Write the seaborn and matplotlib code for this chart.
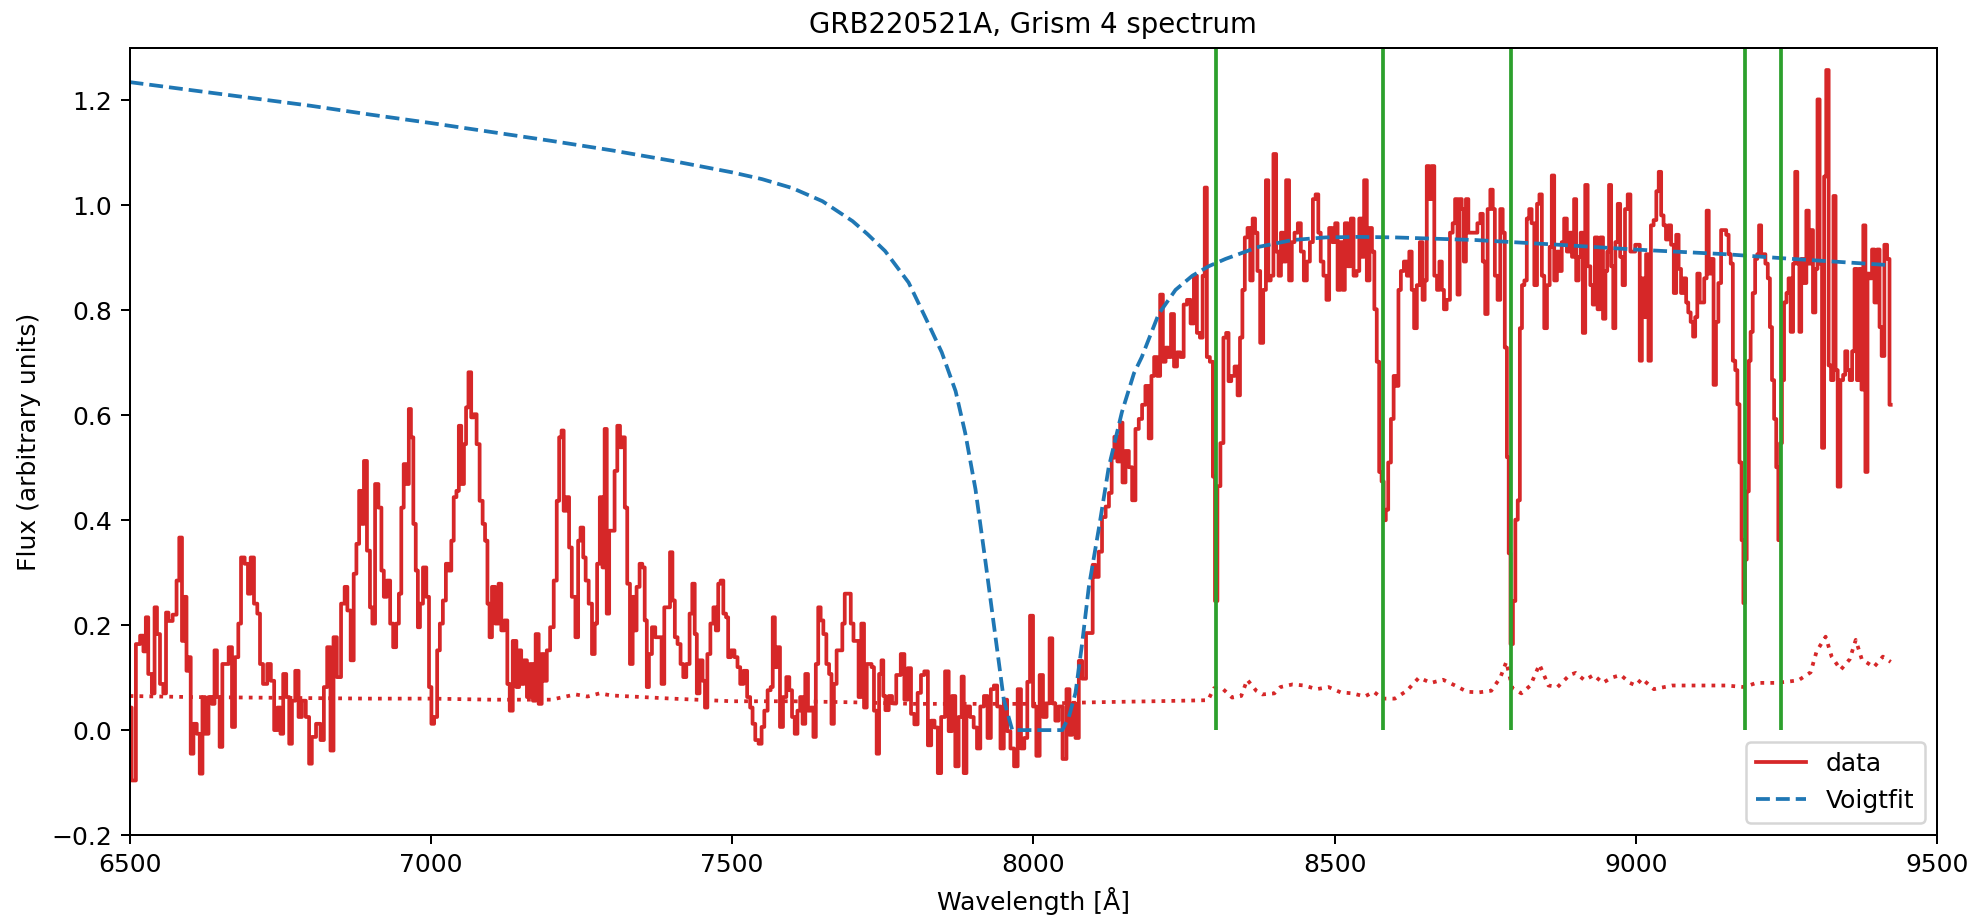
import matplotlib
matplotlib.use("Agg")
import matplotlib.pyplot as plt
import seaborn as sns
import numpy as np
import pandas as pd

# ---------------- data ----------------
wave = [
 6501, 6506, 6515, 6520, 6526, 6528, 6534, 6540, 6543, 6548, 6553, 6559, 6562, 6567, 6576, 6580,
 6585, 6589, 6592, 6597, 6600, 6603, 6609, 6614, 6619, 6623, 6628, 6634, 6639, 6643, 6647, 6652,
 6656, 6661, 6668, 6672, 6678, 6683, 6687, 6695, 6698, 6704, 6709, 6715, 6718, 6725, 6732, 6737,
 6743, 6748, 6753, 6757, 6763, 6767, 6772, 6778, 6783, 6789, 6796, 6800, 6805, 6814, 6820, 6825,
 6831, 6836, 6841, 6847, 6855, 6859, 6864, 6870, 6874, 6879, 6883, 6887, 6891, 6897, 6901, 6905,
 6910, 6916, 6920, 6924, 6930, 6935, 6940, 6945, 6949, 6953, 6957, 6962, 6965, 6969, 6973, 6977,
 6980, 6984, 6990, 6995, 6999, 7003, 7008, 7013, 7017, 7023, 7027, 7032, 7036, 7040, 7045, 7048,
 7053, 7057, 7060, 7065, 7069, 7074, 7078, 7084, 7088, 7092, 7096, 7099, 7104, 7110, 7115, 7119,
 7125, 7129, 7133, 7139, 7145, 7148, 7152, 7157, 7162, 7167, 7172, 7176, 7182, 7186, 7190, 7195,
 7201, 7207, 7211, 7215, 7219, 7222, 7228, 7231, 7237, 7243, 7246, 7251, 7255, 7259, 7265, 7270,
 7274, 7278, 7283, 7287, 7290, 7294, 7298, 7303, 7307, 7312, 7316, 7320, 7324, 7328, 7333, 7337,
 7339, 7344, 7349, 7353, 7357, 7360, 7364, 7370, 7375, 7381, 7385, 7390, 7395, 7399, 7403, 7407,
 7412, 7417, 7421, 7427, 7432, 7436, 7440, 7443, 7449, 7453, 7457, 7461, 7467, 7471, 7475, 7479,
 7483, 7488, 7492, 7495, 7501, 7507, 7511, 7516, 7522, 7528, 7532, 7536, 7541, 7547, 7551, 7556,
 7562, 7566, 7569, 7573, 7577, 7582, 7587, 7593, 7597, 7602, 7606, 7611, 7615, 7619, 7624, 7628,
 7633, 7637, 7641, 7645, 7649, 7654, 7659, 7663, 7667, 7671, 7676, 7681, 7685, 7689, 7695, 7699,
 7704, 7708, 7712, 7717, 7721, 7726, 7730, 7733, 7738, 7742, 7746, 7750,
 7752, 7757, 7763, 7768, 7777, 7783, 7789, 7794, 7800, 7805, 7811, 7816, 7822, 7828, 7833, 7839,
 7844, 7850, 7857, 7862, 7868, 7873, 7879, 7883, 7886, 7892, 7898, 7904, 7909, 7915, 7921, 7927,
 7932, 7937, 7943, 7948, 7954, 7959, 7965, 7971, 7977, 7982, 7988, 7992, 7997, 8002, 8008, 8013,
 8019, 8025, 8029, 8034, 8039, 8045, 8052, 8058, 8062, 8067, 8073, 8078, 8084, 8091, 8097, 8100,
 8106, 8111, 8117, 8123, 8128, 8132, 8137, 8142, 8146, 8150, 8156,
 8161, 8167, 8172, 8178, 8183, 8189, 8194, 8198, 8203, 8208, 8213, 8217, 8222, 8226, 8231, 8236,
 8241, 8247, 8252, 8258, 8264, 8269, 8274, 8279, 8283, 8286, 8290, 8296, 8300, 8303, 8308, 8313,
 8318, 8322, 8326, 8331, 8337, 8341, 8345, 8349, 8353, 8358, 8362, 8366, 8370, 8374, 8379, 8384,
 8388, 8392, 8396, 8401, 8405, 8409, 8413, 8417, 8422, 8427, 8431, 8436, 8442, 8446, 8452, 8456,
 8462, 8466, 8471, 8475, 8479, 8484, 8489, 8493, 8499, 8503, 8507, 8512, 8515, 8519, 8525, 8529,
 8534, 8539, 8543, 8547, 8551, 8556, 8560, 8564, 8568, 8572, 8576, 8580,
 8583, 8587, 8591, 8596, 8600, 8604, 8608, 8612, 8618, 8622, 8626, 8630, 8634, 8639, 8644, 8648,
 8651, 8655, 8659, 8663, 8668, 8672, 8676, 8680, 8683, 8689, 8694, 8698, 8702, 8706, 8709, 8713,
 8716, 8720, 8724, 8728, 8734, 8740, 8744, 8748, 8752, 8756, 8761, 8764, 8768, 8773, 8777, 8781,
 8784, 8788, 8790, 8794, 8798, 8802, 8806, 8809, 8813, 8817, 8821, 8825, 8829, 8834, 8838, 8842,
 8846, 8850, 8855, 8859, 8862, 8867, 8871, 8875, 8879, 8883, 8888, 8892, 8896, 8899, 8903, 8907,
 8910, 8914, 8918, 8922, 8927, 8930, 8934, 8939, 8943, 8948, 8951, 8954, 8957, 8961, 8964, 8968,
 8972, 8976, 8980, 8984, 8989, 8993, 8997,
 9001, 9005, 9008, 9012, 9015, 9019, 9023, 9027, 9032, 9036, 9040, 9044, 9048, 9052, 9056, 9061,
 9065, 9069, 9073, 9077, 9082, 9085, 9089, 9093, 9097, 9100, 9104, 9108, 9111, 9116, 9119, 9123,
 9127, 9131, 9135, 9139, 9144, 9148, 9152, 9156, 9159, 9163, 9167, 9170, 9174, 9177, 9180, 9182,
 9186, 9189, 9192, 9196, 9200, 9203, 9206, 9210, 9213, 9217, 9221, 9224, 9228, 9231, 9235, 9238,
 9241, 9244, 9248, 9252, 9255, 9259, 9263, 9266, 9270, 9273, 9276, 9281, 9285, 9289, 9292, 9296,
 9300, 9303, 9307, 9311, 9314, 9318, 9322, 9326, 9330, 9333, 9337, 9342, 9346, 9349, 9353, 9357,
 9361, 9365, 9369, 9373, 9376, 9379, 9383, 9386, 9390, 9394, 9398, 9403, 9406, 9410, 9415, 9419,
 9423]

flux = [
 0.043, -0.096, 0.164, 0.18, 0.15, 0.215, 0.107, 0.07, 0.234, 0.183, 0.088, 0.07, 0.224, 0.208, 0.22, 0.285,
 0.367, 0.17, 0.254, 0.113, 0.139, -0.045, 0.012, -0.007, -0.083, 0.063, -0.007, 0.063, 0.05, 0.152, 0.063, -0.032,
 0.126, 0.126, 0.158, 0.006, 0.139, 0.203, 0.329, 0.317, 0.26, 0.329, 0.241, 0.222, 0.126, 0.088, 0.126, 0.094,
 0.0, 0.043, -0.007, 0.107, 0.063, -0.026, 0.056, 0.113, 0.025, 0.056, 0.025, -0.064, -0.013, 0.012, -0.019, 0.082,
 0.158, -0.039, 0.177, 0.101, 0.241, 0.273, 0.228, 0.133, 0.298, 0.355, 0.456, 0.393, 0.513, 0.342, 0.234, 0.203,
 0.469, 0.424, 0.304, 0.254, 0.285, 0.203, 0.158, 0.203, 0.26, 0.424, 0.507, 0.469, 0.612, 0.558, 0.393, 0.304,
 0.196, 0.241, 0.31, 0.254, 0.082, 0.012, 0.025, 0.152, 0.203, 0.247, 0.317, 0.304, 0.361, 0.444, 0.456, 0.58,
 0.469, 0.545, 0.615, 0.682, 0.596, 0.602, 0.545, 0.437, 0.393, 0.361, 0.241, 0.177, 0.273, 0.203, 0.279, 0.19,
 0.209, 0.088, 0.037, 0.17, 0.082, 0.152, 0.088, 0.133, 0.063, 0.126, 0.056, 0.183, 0.05, 0.145, 0.094, 0.152,
 0.196, 0.285, 0.437, 0.558, 0.571, 0.418, 0.444, 0.348, 0.254, 0.177, 0.361, 0.386, 0.329, 0.285, 0.241, 0.145,
 0.203, 0.317, 0.444, 0.31, 0.574, 0.222, 0.38, 0.38, 0.494, 0.58, 0.539, 0.558, 0.424, 0.279, 0.126, 0.254,
 0.19, 0.273, 0.317, 0.31, 0.209, 0.082, 0.145, 0.196, 0.177, 0.177, 0.088, 0.234, 0.234, 0.339, 0.247, 0.177,
 0.164, 0.126, 0.101, 0.126, 0.222, 0.279, 0.183, 0.07, 0.133, 0.094, 0.043, 0.145, 0.203, 0.234, 0.19, 0.279,
 0.285, 0.222, 0.215, 0.139, 0.152, 0.139, 0.12, 0.088, 0.113, 0.063, 0.043, 0.012, -0.019, -0.026, 0.006, 0.037,
 0.076, 0.082, 0.215, 0.12, 0.158, 0.006, 0.063, 0.101, 0.076, 0.025, -0.007, 0.037, 0.063, 0.012, 0.107, 0.037,
 0.043, -0.013, 0.126, 0.234, 0.209, 0.183, 0.126, 0.107, 0.012, 0.088, 0.152, 0.152, 0.203, 0.26, 0.26, 0.203,
 0.17, 0.17, 0.063, 0.203, 0.043, 0.126, 0.126, 0.12, 0.037, -0.045, 0.107, 0.133,
 0.065, 0.038, 0.065, 0.051, 0.105, 0.145, 0.058, 0.118, 0.031, 0.011, 0.071, 0.105, 0.112, -0.029, 0.018, 0.005,
 -0.082, 0.025, 0.112, -0.002, 0.065, -0.069, 0.025, 0.102, -0.082, 0.045, 0.025, 0.005, -0.035, 0.045, 0.065, -0.015,
 0.078, 0.085, 0.045, -0.035, 0.058, -0.002, -0.035, -0.069, 0.078, -0.035, -0.015, 0.092, 0.218, 0.045, -0.049, 0.105,
 0.025, 0.051, 0.175, 0.051, 0.018, 0.045, -0.055, 0.078, -0.009, 0.051, -0.015, 0.132, 0.098, 0.185, 0.185, 0.315,
 0.292, 0.34, 0.406, 0.426, 0.452, 0.519, 0.559, 0.512, 0.586, 0.472, 0.532,
 0.501, 0.438, 0.574, 0.593, 0.62, 0.656, 0.556, 0.675, 0.711, 0.675, 0.83, 0.702, 0.729, 0.711, 0.793, 0.693,
 0.72, 0.711, 0.811, 0.82, 0.775, 0.866, 0.757, 0.748, 0.866, 1.034, 0.711, 0.702, 0.483, 0.246, 0.465, 0.547,
 0.748, 0.757, 0.665, 0.675, 0.693, 0.638, 0.748, 0.839, 0.939, 0.957, 0.857, 0.975, 0.948, 0.875, 0.738, 0.839,
 1.048, 0.857, 0.866, 1.098, 0.912, 0.866, 0.948, 0.893, 1.048, 0.857, 0.93, 0.948, 0.966, 0.912, 0.857, 0.893,
 0.93, 1.012, 1.021, 0.948, 0.893, 0.866, 0.82, 0.957, 0.93, 0.966, 0.839, 0.93, 0.839, 0.966, 0.884, 0.975,
 0.866, 0.875, 0.975, 0.902, 1.048, 0.857, 0.957, 0.912, 0.802, 0.702, 0.492, 0.474,
 0.40, 0.42, 0.51, 0.593, 0.675, 0.656, 0.839, 0.875, 0.893, 0.866, 0.912, 0.839, 0.766, 0.848, 0.93, 0.82,
 0.857, 1.075, 1.012, 1.075, 0.866, 0.839, 0.893, 0.839, 0.802, 0.82, 0.948, 0.966, 1.012, 0.83, 1.012, 0.993,
 0.893, 1.012, 0.948, 0.948, 0.948, 0.966, 0.984, 0.893, 0.793, 0.993, 1.03, 0.993, 0.866, 0.82, 0.993, 0.948,
 0.729, 0.52, 0.337, 0.164, 0.246, 0.401, 0.438, 0.766, 0.848, 0.857, 0.975, 0.993, 0.966, 0.848, 1.003, 1.021,
 0.866, 0.766, 0.848, 0.921, 1.057, 0.857, 0.912, 0.875, 0.93, 0.975, 0.912, 0.948, 0.902, 1.012, 0.857, 0.902,
 0.948, 0.757, 1.039, 0.884, 0.848, 0.811, 0.939, 0.802, 0.939, 0.784, 0.875, 0.912, 1.039, 0.884, 0.766, 0.93,
 1.003, 0.902, 0.848, 0.993, 1.021, 0.912, 0.912,
 0.925, 0.925, 0.704, 0.861, 0.787, 0.907, 0.704, 0.962, 0.972, 1.027, 1.064, 0.981, 0.962, 0.935, 0.962, 0.925,
 0.833, 0.944, 0.879, 0.833, 0.861, 0.815, 0.796, 0.778, 0.75, 0.787, 0.87, 0.815, 0.815, 0.861, 0.99, 0.87,
 0.898, 0.658, 0.778, 0.852, 0.953, 0.953, 0.944, 0.907, 0.889, 0.704, 0.686, 0.621, 0.51, 0.362, 0.242, 0.325,
 0.455, 0.704, 0.759, 0.833, 0.898, 0.907, 0.962, 0.907, 0.907, 0.889, 0.861, 0.768, 0.667, 0.593, 0.501, 0.362,
 0.547, 0.667, 0.815, 0.833, 0.861, 0.759, 0.889, 1.064, 0.889, 0.759, 0.898, 0.852, 0.99, 0.889, 0.953, 0.796,
 0.879, 1.202, 0.889, 0.538, 1.055, 1.258, 0.695, 0.667, 1.018, 0.686, 0.464, 0.667, 0.677, 0.722, 0.686, 0.667,
 0.722, 0.879, 0.667, 0.879, 0.649, 0.962, 0.492, 0.87, 0.861, 0.916, 0.815, 0.916, 0.768, 0.713, 0.925, 0.898,
 0.62]

err_wave = [6500, 6600, 6700, 6800, 6900, 7000, 7100, 7200, 7240, 7260, 7280, 7300, 7400, 7500, 7600,
            7700, 7800, 7900, 8000, 8100, 8200, 8290, 8300, 8315, 8330, 8345, 8355, 8370, 8380, 8400,
            8410, 8430, 8450, 8470, 8490, 8510, 8530, 8550, 8565, 8580, 8600, 8620, 8640, 8660, 8680,
            8700, 8720, 8740, 8760, 8775, 8785, 8795, 8810, 8825, 8840, 8855, 8870, 8890, 8900, 8915,
            8930, 8945, 8960, 8975, 8990, 9000, 9010, 9030, 9060, 9100, 9150, 9180, 9200, 9230, 9250,
            9270, 9290, 9300, 9315, 9325, 9340, 9355, 9365, 9375, 9395, 9410, 9423]
err_flux = [0.065, 0.063, 0.062, 0.061, 0.060, 0.060, 0.058, 0.058, 0.068, 0.064, 0.070, 0.066, 0.060, 0.055, 0.055,
            0.053, 0.050, 0.050, 0.050, 0.053, 0.055, 0.057, 0.080, 0.078, 0.062, 0.065, 0.096, 0.075, 0.068, 0.070,
            0.082, 0.087, 0.085, 0.078, 0.082, 0.072, 0.070, 0.064, 0.073, 0.060, 0.060, 0.075, 0.100, 0.090, 0.096,
            0.085, 0.073, 0.072, 0.075, 0.100, 0.130, 0.080, 0.070, 0.085, 0.125, 0.085, 0.082, 0.105, 0.109, 0.095,
            0.105, 0.090, 0.100, 0.105, 0.090, 0.085, 0.098, 0.078, 0.085, 0.085, 0.085, 0.082, 0.090, 0.090, 0.092,
            0.095, 0.110, 0.150, 0.178, 0.140, 0.115, 0.135, 0.172, 0.135, 0.120, 0.140, 0.130]

voigt_wave = [6500, 6600, 6700, 6800, 6900, 7000, 7100, 7200, 7300, 7400, 7500, 7550, 7600, 7650, 7700,
              7725, 7754, 7793, 7821, 7848, 7871, 7887, 7904, 7920, 7937, 7951, 7965, 8048, 8059, 8070,
              8081, 8092, 8109, 8125, 8147, 8167, 8180, 8208, 8236, 8264, 8291, 8319, 8374, 8430, 8485,
              8540, 8600, 8734, 8872, 8997, 9149, 9260, 9423]
voigt_flux = [1.235, 1.22, 1.205, 1.19, 1.173, 1.157, 1.14, 1.123, 1.105, 1.085, 1.063, 1.05, 1.033, 1.008, 0.97,
              0.945, 0.913, 0.853, 0.786, 0.72, 0.646, 0.566, 0.459, 0.326, 0.179, 0.058, 0.0, 0.0, 0.025, 0.071,
              0.165, 0.272, 0.386, 0.5, 0.606, 0.68, 0.711, 0.793, 0.839, 0.866, 0.884, 0.898, 0.921, 0.934, 0.939,
              0.94, 0.939, 0.934, 0.925, 0.916, 0.907, 0.898, 0.886]

line_wave = [8304, 8580, 8792, 9181, 9241]

xticks = [6500, 7000, 7500, 8000, 8500, 9000, 9500]
yticks = [-0.2, 0.0, 0.2, 0.4, 0.6, 0.8, 1.0, 1.2]

# ---------------- plot ----------------
DPI = 180
plt.rcParams['font.family'] = ['DejaVu Sans']
fig, ax = plt.subplots(figsize=(1972 / DPI, 923 / DPI), dpi=DPI)
fig.subplots_adjust(left=0.0657, right=0.9823, top=0.948, bottom=0.0953)

df = pd.DataFrame({"wave": wave, "flux": flux})
de = pd.DataFrame({"wave": err_wave, "err": err_flux})
dv = pd.DataFrame({"wave": voigt_wave, "fit": voigt_flux})

red = "#d62728"
sns.lineplot(data=df, x="wave", y="flux", ax=ax, color=red, linewidth=1.5,
             drawstyle="steps-mid", estimator=None, sort=False, label="data")
sns.lineplot(data=de, x="wave", y="err", ax=ax, color=red, linewidth=1.5,
             linestyle=":", estimator=None, sort=False)
sns.lineplot(data=dv, x="wave", y="fit", ax=ax, color="#1f77b4", linewidth=1.5,
             linestyle="--", estimator=None, sort=False, label="Voigtfit")
ax.vlines(line_wave, 0, 1.35, colors="#2ca02c", linewidth=1.5)

ax.set_xlim(6500, 9500)
ax.set_ylim(-0.2, 1.3)
ax.set_xticks(xticks)
ax.set_yticks(yticks)
ax.set_xlabel("Wavelength [Å]", fontsize=10)
ax.set_ylabel("Flux (arbitrary units)", fontsize=10)
ax.set_title("GRB220521A, Grism 4 spectrum", fontsize=11)
ax.tick_params(labelsize=10)
ax.legend(loc="lower right", fontsize=10)

fig.savefig("out.png", dpi=DPI)
